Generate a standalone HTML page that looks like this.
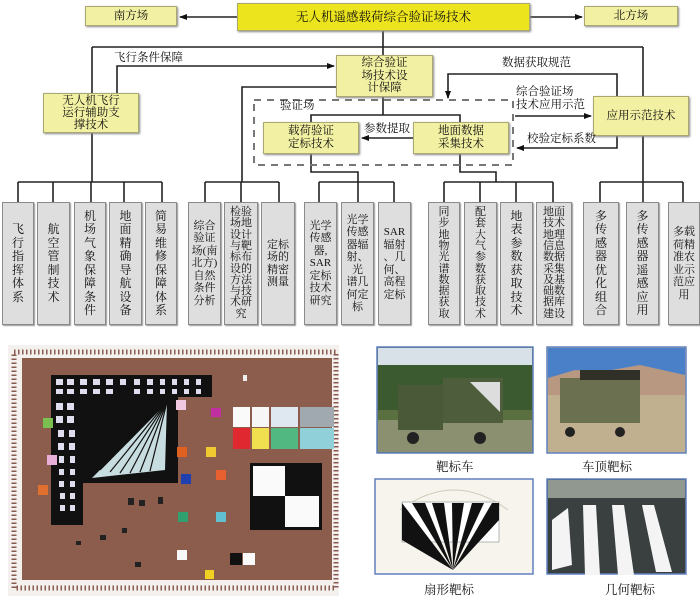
<!DOCTYPE html>
<html><head><meta charset="utf-8">
<style>
body{margin:0;background:#fff;}
#w{position:relative;width:700px;height:597px;overflow:hidden;font-family:"Liberation Serif","Noto Serif CJK SC","Noto Sans CJK SC",serif;color:#111;}
.b{position:absolute;box-sizing:border-box;display:flex;align-items:center;justify-content:center;text-align:center;}
.y{background:#f2f0a2;border:1px solid #a8a870;box-shadow:1px 1px 2px #888;font-size:11.5px;line-height:13px;}
.g{background:#dedede;border:1px solid #8a8a8a;box-shadow:1px 1px 1px #999;font-size:12px;line-height:13.5px;}
.t{font-size:11px;line-height:11.3px;}
.s{font-size:11px;line-height:12.5px;}
.l{position:absolute;font-size:11.5px;line-height:13px;white-space:nowrap;}
.c{position:absolute;font-size:12.5px;}
</style></head><body><div id="w">
<svg width="700" height="597" style="position:absolute;left:0;top:0">
<defs><marker id="a" markerWidth="8" markerHeight="6" refX="7" refY="3" orient="auto" markerUnits="userSpaceOnUse"><path d="M0,0L8,3L0,6z" fill="#111"/></marker></defs>
<g stroke="#222" stroke-width="1.6" fill="none">
<line x1="237" y1="17" x2="180" y2="17" marker-end="url(#a)"/>
<line x1="530" y1="17" x2="582" y2="17" marker-end="url(#a)"/>
<line x1="383" y1="30" x2="383" y2="55"/>
<line x1="92" y1="47" x2="643" y2="47"/>
<line x1="92" y1="47" x2="92" y2="93"/>
<line x1="643" y1="47" x2="643" y2="182"/>
<polyline points="117,93 117,66 334,66" marker-end="url(#a)"/>
<line x1="92" y1="133" x2="92" y2="182"/>
<polyline points="337,87 242,87 242,182"/>
<polyline points="383,97 383,115"/>
<polyline points="311,122 311,115 460,115 460,122"/>
<polyline points="617,96 617,74 448,74 448,98" marker-end="url(#a)"/>
<polyline points="515,116 591,116" marker-end="url(#a)"/>
<polyline points="617,136 617,148 517,148" marker-end="url(#a)"/>
<line x1="413" y1="138" x2="362" y2="138" marker-end="url(#a)"/>
<polyline points="311,154 311,172 358,172 358,182"/>
<polyline points="460,154 460,172 496,172 496,182"/>
<line x1="18" y1="182" x2="162" y2="182"/><line x1="18" y1="182" x2="18" y2="202"/><line x1="53" y1="182" x2="53" y2="202"/><line x1="91" y1="182" x2="91" y2="202"/><line x1="124" y1="182" x2="124" y2="202"/><line x1="162" y1="182" x2="162" y2="202"/>
<line x1="205" y1="182" x2="279" y2="182"/><line x1="205" y1="182" x2="205" y2="202"/><line x1="241" y1="182" x2="241" y2="202"/><line x1="279" y1="182" x2="279" y2="202"/>
<line x1="319" y1="182" x2="394" y2="182"/><line x1="319" y1="182" x2="319" y2="202"/><line x1="358" y1="182" x2="358" y2="202"/><line x1="394" y1="182" x2="394" y2="202"/>
<line x1="444" y1="182" x2="553" y2="182"/><line x1="444" y1="182" x2="444" y2="202"/><line x1="480" y1="182" x2="480" y2="202"/><line x1="516" y1="182" x2="516" y2="202"/><line x1="553" y1="182" x2="553" y2="202"/>
<line x1="600" y1="182" x2="683" y2="182"/><line x1="600" y1="182" x2="600" y2="202"/><line x1="643" y1="182" x2="643" y2="202"/><line x1="683" y1="182" x2="683" y2="202"/>
</g>
<rect x="254" y="100" width="259" height="65" fill="none" stroke="#777" stroke-width="2" stroke-dasharray="7,6"/>
<rect x="8" y="345" width="331" height="251" fill="#f4f0ee"/>
<rect x="14" y="352" width="322" height="236" fill="none" stroke="#8a5a50" stroke-width="5" stroke-dasharray="1.5,2.5"/>
<rect x="22" y="358" width="310" height="222" fill="#8c5c4c"/>
<rect x="51" y="375" width="161" height="22" fill="#111"/>
<rect x="51" y="375" width="32" height="150" fill="#111"/>
<rect x="83" y="397" width="95" height="86" fill="#111"/>
<path d="M167,402 L92,478 L165,470 Z" fill="#c8dde0"/>
<g stroke="#111" stroke-width="1.2"><line x1="167" y1="402" x2="100" y2="470"/><line x1="167" y1="402" x2="110" y2="472"/><line x1="167" y1="402" x2="120" y2="473"/><line x1="167" y1="402" x2="130" y2="473"/><line x1="167" y1="402" x2="140" y2="472"/><line x1="167" y1="402" x2="150" y2="471"/><line x1="167" y1="402" x2="96" y2="462"/><line x1="167" y1="402" x2="105" y2="450"/></g>
<g fill="#dde">
<rect x="56" y="379" width="7" height="6"/><rect x="67" y="379" width="7" height="6"/><rect x="80" y="379" width="7" height="6"/><rect x="93" y="379" width="7" height="6"/><rect x="106" y="379" width="7" height="6"/><rect x="120" y="379" width="6" height="6"/><rect x="134" y="379" width="6" height="6"/><rect x="147" y="379" width="6" height="6"/><rect x="160" y="379" width="5" height="6"/><rect x="172" y="379" width="5" height="6"/><rect x="184" y="379" width="5" height="6"/><rect x="196" y="379" width="5" height="6"/>
<rect x="56" y="389" width="7" height="5"/><rect x="67" y="389" width="7" height="5"/><rect x="80" y="389" width="7" height="5"/><rect x="93" y="389" width="7" height="5"/><rect x="106" y="389" width="7" height="5"/><rect x="134" y="389" width="6" height="5"/><rect x="147" y="389" width="6" height="5"/><rect x="160" y="389" width="5" height="5"/><rect x="172" y="389" width="5" height="5"/><rect x="184" y="389" width="5" height="5"/><rect x="196" y="389" width="5" height="5"/>
<rect x="56" y="403" width="7" height="7"/><rect x="67" y="403" width="7" height="7"/><rect x="56" y="416" width="7" height="7"/><rect x="67" y="416" width="7" height="7"/><rect x="58" y="430" width="6" height="7"/><rect x="69" y="430" width="6" height="7"/><rect x="58" y="443" width="6" height="7"/><rect x="69" y="443" width="6" height="7"/><rect x="59" y="456" width="5" height="7"/><rect x="70" y="456" width="5" height="7"/><rect x="59" y="469" width="5" height="6"/><rect x="70" y="469" width="5" height="6"/><rect x="59" y="481" width="5" height="6"/><rect x="70" y="481" width="5" height="6"/><rect x="60" y="493" width="5" height="6"/><rect x="70" y="493" width="5" height="6"/><rect x="60" y="505" width="5" height="6"/><rect x="70" y="505" width="5" height="6"/>
</g>
<rect x="233" y="407" width="17" height="20" fill="#fafafa"/><rect x="252" y="407" width="17" height="20" fill="#f6f6f6"/><rect x="271" y="407" width="27" height="20" fill="#dfe8f0"/><rect x="300" y="407" width="34" height="20" fill="#a0a8b0"/>
<rect x="233" y="428" width="17" height="21" fill="#e02830"/><rect x="252" y="428" width="17" height="21" fill="#f0e050"/><rect x="271" y="428" width="27" height="21" fill="#50b880"/><rect x="300" y="428" width="34" height="21" fill="#90d0d8"/>
<rect x="250" y="463" width="72" height="67" fill="#111"/><rect x="253" y="466" width="32" height="30" fill="#fafafa"/><rect x="285" y="496" width="34" height="31" fill="#fafafa"/>
<rect x="43" y="418" width="10" height="10" fill="#7ac050"/><rect x="47" y="455" width="10" height="10" fill="#e8b0d8"/><rect x="38" y="485" width="10" height="10" fill="#e07030"/><rect x="176" y="400" width="10" height="10" fill="#f0c8e0"/><rect x="211" y="408" width="10" height="9" fill="#c030a0"/><rect x="177" y="447" width="10" height="10" fill="#e06020"/><rect x="206" y="447" width="10" height="10" fill="#f0c830"/><rect x="181" y="474" width="10" height="10" fill="#2040b0"/><rect x="216" y="470" width="10" height="10" fill="#e86030"/><rect x="178" y="512" width="10" height="10" fill="#30a070"/><rect x="216" y="512" width="10" height="10" fill="#60c0d0"/><rect x="177" y="550" width="10" height="10" fill="#f8f8f8"/><rect x="230" y="553" width="12" height="12" fill="#111"/><rect x="243" y="553" width="12" height="12" fill="#fafafa"/><rect x="205" y="570" width="9" height="9" fill="#f0d020"/><rect x="243" y="375" width="4" height="6" fill="#eee"/>
<g fill="#222"><rect x="128" y="498" width="6" height="7"/><rect x="139" y="500" width="6" height="6"/><rect x="158" y="497" width="5" height="7"/><rect x="122" y="528" width="5" height="5"/><rect x="100" y="535" width="6" height="5"/><rect x="76" y="541" width="5" height="4"/><rect x="135" y="562" width="6" height="5"/></g>
<rect x="377" y="347" width="156" height="106" fill="#5a7040" stroke="#6080c0" stroke-width="1.5"/>
<rect x="378" y="348" width="154" height="30" fill="#d8e0e8"/>
<rect x="378" y="365" width="154" height="45" fill="#3c5a30"/>
<rect x="378" y="420" width="154" height="32" fill="#8a9070"/>
<rect x="398" y="385" width="45" height="45" fill="#4a5a38"/><rect x="443" y="378" width="60" height="45" fill="#4e5e3c"/><path d="M470,382 L500,382 L500,412 Z" fill="#ddd"/><circle cx="413" cy="438" r="6" fill="#222"/><circle cx="480" cy="438" r="6" fill="#222"/>
<rect x="547" y="347" width="139" height="106" fill="#c0b090" stroke="#6080c0" stroke-width="1.5"/>
<rect x="548" y="348" width="137" height="30" fill="#4a80c8"/>
<path d="M548,378 L575,370 L600,372 L640,365 L685,375 L685,395 L548,395Z" fill="#b89880"/>
<rect x="560" y="378" width="80" height="45" fill="#6a7050"/><rect x="580" y="370" width="60" height="10" fill="#303028"/><circle cx="570" cy="432" r="5" fill="#222"/><circle cx="620" cy="432" r="5" fill="#222"/>
<rect x="375" y="479" width="158" height="95" fill="#f6f4ec" stroke="#6080c0" stroke-width="1.5"/>
<path d="M400,510 Q454,470 508,510" fill="none" stroke="#ccb" stroke-width="1"/>
<rect x="402" y="502" width="97" height="40" fill="#fff" stroke="#999" stroke-width="0.7"/>
<g fill="#111"><path d="M453,570 L402,503 L402,540Z"/><path d="M453,570 L412,503 L425,503Z"/><path d="M453,570 L432,503 L444,503Z"/><path d="M453,570 L452,503 L464,503Z"/><path d="M453,570 L472,503 L484,503Z"/><path d="M453,570 L492,503 L499,503 L499,520Z"/></g>
<rect x="547" y="479" width="139" height="95" fill="#3a4040" stroke="#6080c0" stroke-width="1.5"/>
<rect x="548" y="480" width="137" height="18" fill="#909890"/>
<g fill="#f4f4f4"><path d="M552,520 L568,508 L572,565 L552,570Z"/><path d="M583,505 L596,505 L600,575 L585,575Z"/><path d="M612,505 L624,505 L634,575 L618,575Z"/><path d="M642,505 L654,505 L672,572 L656,572Z"/></g>
</svg>
<div class="b y" style="left:237px;top:3px;width:293px;height:28px;background:#ece41c;font-size:12.5px">无人机遥感载荷综合验证场技术</div>
<div class="b y" style="left:85px;top:6px;width:92px;height:20px">南方场</div>
<div class="b y" style="left:584px;top:6px;width:94px;height:20px">北方场</div>
<div class="b y" style="left:336px;top:55px;width:97px;height:42px;line-height:12.5px">综合验证<br>场技术设<br>计保障</div>
<div class="b y" style="left:43px;top:93px;width:96px;height:40px;line-height:12px">无人机飞行<br>运行辅助支<br>撑技术</div>
<div class="b y" style="left:263px;top:122px;width:96px;height:32px">载荷验证<br>定标技术</div>
<div class="b y" style="left:413px;top:122px;width:96px;height:32px">地面数据<br>采集技术</div>
<div class="b y" style="left:593px;top:96px;width:96px;height:40px">应用示范技术</div>
<div class="l" style="left:114px;top:52px">飞行条件保障</div>
<div class="l" style="left:502px;top:57px">数据获取规范</div>
<div class="l" style="left:516px;top:86px;line-height:13px">综合验证场<br>技术应用示范</div>
<div class="l" style="left:527px;top:133px">校验定标系数</div>
<div class="l" style="left:364px;top:123px">参数提取</div>
<div class="l" style="left:280px;top:100px">验证场</div>
<div class="b g" style="left:2px;top:202px;width:32px;height:123px">飞<br>行<br>指<br>挥<br>体<br>系</div>
<div class="b g" style="left:37px;top:202px;width:33px;height:123px">航<br>空<br>管<br>制<br>技<br>术</div>
<div class="b g" style="left:74px;top:202px;width:32px;height:123px">机<br>场<br>气<br>象<br>保<br>障<br>条<br>件</div>
<div class="b g" style="left:109px;top:202px;width:33px;height:123px">地<br>面<br>精<br>确<br>导<br>航<br>设<br>备</div>
<div class="b g" style="left:145px;top:202px;width:32px;height:123px">简<br>易<br>维<br>修<br>保<br>障<br>体<br>系</div>
<div class="b g s" style="left:188px;top:202px;width:33px;height:123px">综合<br>验证<br>场(南<br>北方)<br>自然<br>条件<br>分析</div>
<div class="b g t" style="left:224px;top:202px;width:34px;height:123px">检验<br>场地<br>设计<br>与靶<br>标布<br>设的<br>方法<br>与技<br>术研<br>究</div>
<div class="b g s" style="left:261px;top:202px;width:34px;height:123px">定标<br>场的<br>精密<br>测量</div>
<div class="b g s" style="left:304px;top:202px;width:33px;height:123px">光学<br>传感<br>器,<br>SAR<br>定标<br>技术<br>研究</div>
<div class="b g s" style="left:341px;top:202px;width:33px;height:123px">光学<br>传感<br>器辐<br>射、光<br>谱几<br>何定<br>标</div>
<div class="b g s" style="left:378px;top:202px;width:33px;height:123px">SAR<br>辐射<br>、几<br>何、<br>高程<br>定标</div>
<div class="b g t" style="left:428px;top:202px;width:32px;height:123px">同<br>步<br>地<br>物<br>光<br>谱<br>数<br>据<br>获<br>取</div>
<div class="b g t" style="left:464px;top:202px;width:33px;height:123px">配<br>套<br>大<br>气<br>参<br>数<br>获<br>取<br>技<br>术</div>
<div class="b g" style="left:500px;top:202px;width:33px;height:123px">地<br>表<br>参<br>数<br>获<br>取<br>技<br>术</div>
<div class="b g t" style="left:536px;top:202px;width:36px;height:123px">地面<br>技术<br>地理<br>信息<br>数据<br>采集<br>及基<br>础数<br>据库<br>建设</div>
<div class="b g" style="left:583px;top:202px;width:36px;height:123px">多<br>传<br>感<br>器<br>优<br>化<br>组<br>合</div>
<div class="b g" style="left:626px;top:202px;width:33px;height:123px">多<br>传<br>感<br>器<br>遥<br>感<br>应<br>用</div>
<div class="b g s" style="left:668px;top:202px;width:32px;height:123px">多载<br>荷精<br>准农<br>业示<br>范应<br>用</div>
<div class="c" style="left:436px;top:457px">靶标车</div>
<div class="c" style="left:582px;top:457px">车顶靶标</div>
<div class="c" style="left:424px;top:580px">扇形靶标</div>
<div class="c" style="left:605px;top:580px">几何靶标</div>
</div></body></html>
